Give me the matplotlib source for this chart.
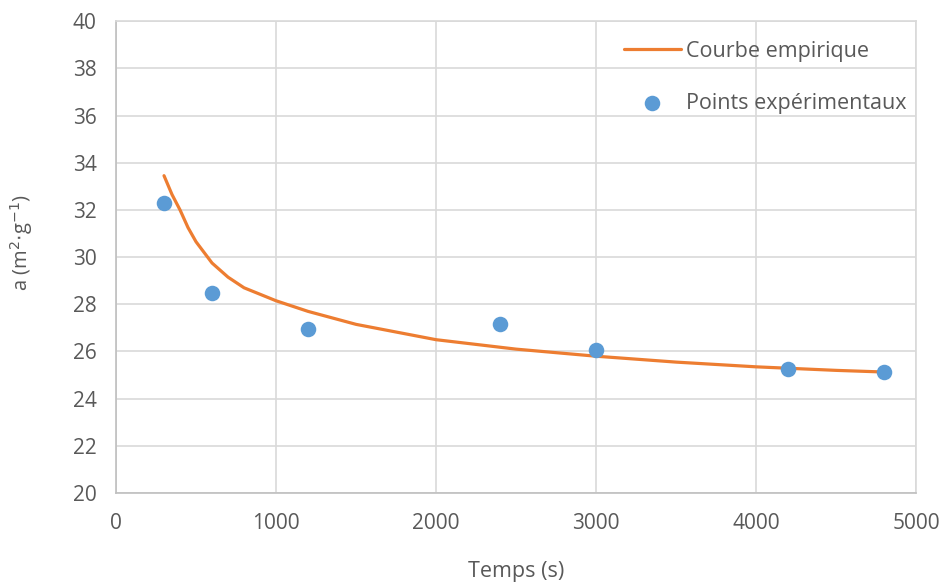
import matplotlib
matplotlib.use("Agg")
import matplotlib.pyplot as plt

plt.rcParams['font.family'] = ['Open Sans', 'DejaVu Sans']

# Experimental points
exp_t = [300, 600, 1200, 2400, 3000, 4200, 4800]
exp_a = [32.3, 28.48, 26.95, 27.16, 26.08, 25.27, 25.15]

curve_t = [300, 350, 400, 450, 500, 600, 700, 800, 1000, 1200, 1500, 2000,
           2500, 3000, 3500, 4000, 4500, 4800]
curve_a = [33.45, 32.65, 32.0, 31.25, 30.65, 29.75, 29.15, 28.7, 28.15, 27.7,
           27.15, 26.5, 26.1, 25.8, 25.55, 25.35, 25.2, 25.13]

x_ticks = [0, 1000, 2000, 3000, 4000, 5000]
y_ticks = [20, 22, 24, 26, 28, 30, 32, 34, 36, 38, 40]

fig = plt.figure(figsize=(9.47, 5.87), dpi=100)
ax = fig.add_axes([0.1225, 0.160, 0.845, 0.804])

ax.plot(curve_t, curve_a, color='#ED7D31', lw=2.3, label='Courbe empirique', zorder=3,
        solid_capstyle='round', solid_joinstyle='round')
ax.scatter(exp_t, exp_a, s=125, color='#5B9BD5', label='Points expérimentaux', zorder=4,
           linewidths=0)

ax.set_xlim(0, 5000)
ax.set_ylim(20, 40)
ax.set_xticks(x_ticks)
ax.set_yticks(y_ticks)
ax.grid(True, color='#D9D9D9', lw=1.2)
ax.set_axisbelow(True)
for s in ax.spines.values():
    s.set_color('#D9D9D9')
    s.set_linewidth(1.2)
ax.spines['left'].set_color('#BFBFBF')
ax.spines['bottom'].set_color('#BFBFBF')
ax.tick_params(axis='x', length=0, labelsize=15, labelcolor='#595959', pad=14)
ax.tick_params(axis='y', length=0, labelsize=15, labelcolor='#595959', pad=14)

ax.set_xlabel('Temps (s)', fontsize=15.5, color='#595959', labelpad=20)
ax.set_ylabel(r'a (m$^{2}$$\cdot$g$^{-1}$)', fontsize=14.5, color='#595959')
ax.yaxis.set_label_coords(-0.101, 0.53)

leg = ax.legend(loc='upper right', bbox_to_anchor=(1.012, 1.0), frameon=False,
                fontsize=15.5, labelcolor='#595959', handlelength=2.65, labelspacing=1.45,
                handletextpad=0.25, scatterpoints=1)

fig.savefig('out.png', dpi=100, facecolor='white')
